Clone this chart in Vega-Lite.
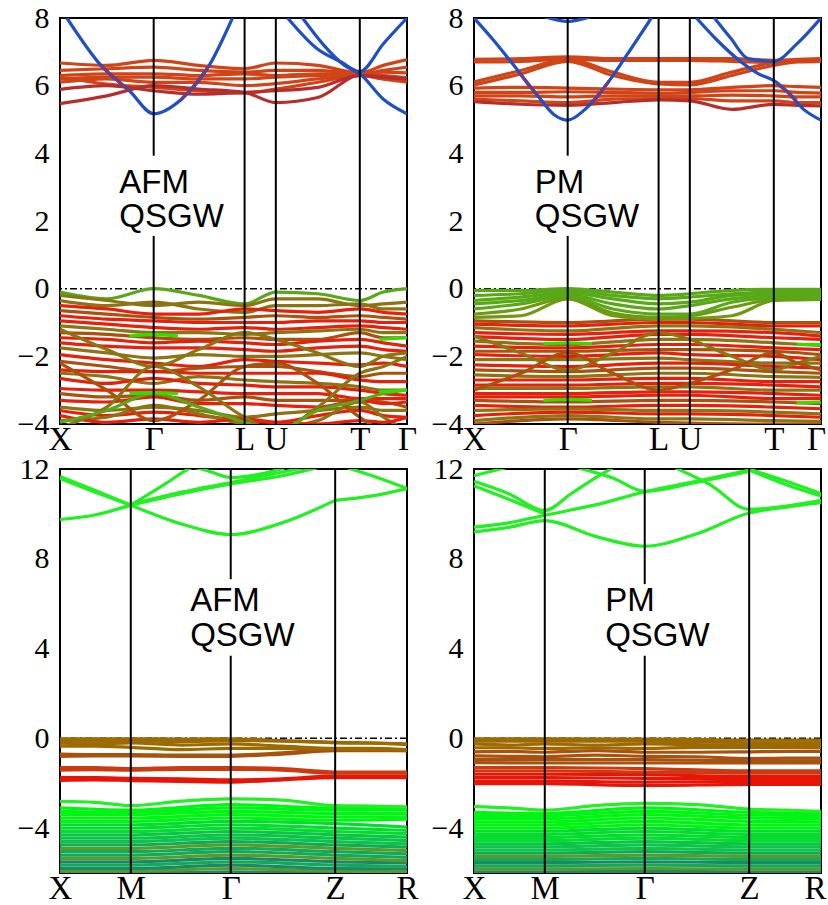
{
"$schema": "https://vega.github.io/schema/vega-lite/v6.json",
"background": "white",
"padding": {"left": 16, "top": 2, "right": 0, "bottom": 0},
"columns": 2,
"spacing": {"row": 45, "column": 67},
"bounds": "flush",
"resolve": {"scale": {"x": "independent", "y": "independent"}},
"datasets": {
"tl": [
{"b":"c1","c":"c","x":0,"y":6.67},{"b":"c1","c":"c","x":0.135,"y":6.6},{"b":"c1","c":"c","x":0.27,"y":6.75},{"b":"c1","c":"c","x":0.4,"y":6.6},{"b":"c1","c":"c","x":0.532,"y":6.5},{"b":"c1","c":"c","x":0.622,"y":6.67},{"b":"c1","c":"c","x":0.743,"y":6.6},{"b":"c1","c":"c","x":0.864,"y":6.38},{"b":"c1","c":"c","x":0.932,"y":6.6},{"b":"c1","c":"c","x":1,"y":6.77},
{"b":"c2","c":"c","x":0,"y":6.45},{"b":"c2","c":"c","x":0.135,"y":6.5},{"b":"c2","c":"c","x":0.27,"y":6.55},{"b":"c2","c":"c","x":0.4,"y":6.45},{"b":"c2","c":"c","x":0.532,"y":6.4},{"b":"c2","c":"c","x":0.622,"y":6.45},{"b":"c2","c":"c","x":0.743,"y":6.45},{"b":"c2","c":"c","x":0.864,"y":6.35},{"b":"c2","c":"c","x":0.932,"y":6.45},{"b":"c2","c":"c","x":1,"y":6.55},
{"b":"c3","c":"c","x":0,"y":6.3},{"b":"c3","c":"c","x":0.135,"y":6.35},{"b":"c3","c":"c","x":0.27,"y":6.35},{"b":"c3","c":"c","x":0.4,"y":6.3},{"b":"c3","c":"c","x":0.532,"y":6.35},{"b":"c3","c":"c","x":0.622,"y":6.3},{"b":"c3","c":"c","x":0.743,"y":6.35},{"b":"c3","c":"c","x":0.864,"y":6.35},{"b":"c3","c":"c","x":0.932,"y":6.4},{"b":"c3","c":"c","x":1,"y":6.38},
{"b":"c4","c":"c","x":0,"y":6.19},{"b":"c4","c":"c","x":0.135,"y":6.25},{"b":"c4","c":"c","x":0.27,"y":6.25},{"b":"c4","c":"c","x":0.4,"y":6.2},{"b":"c4","c":"c","x":0.532,"y":6.2},{"b":"c4","c":"c","x":0.622,"y":6.25},{"b":"c4","c":"c","x":0.743,"y":6.3},{"b":"c4","c":"c","x":0.864,"y":6.33},{"b":"c4","c":"c","x":0.932,"y":6.3},{"b":"c4","c":"c","x":1,"y":6.23},
{"b":"c5","c":"c","x":0,"y":6.1},{"b":"c5","c":"c","x":0.135,"y":6.2},{"b":"c5","c":"c","x":0.27,"y":6.1},{"b":"c5","c":"c","x":0.4,"y":6.1},{"b":"c5","c":"c","x":0.532,"y":6.0},{"b":"c5","c":"c","x":0.622,"y":6.06},{"b":"c5","c":"c","x":0.743,"y":6.2},{"b":"c5","c":"c","x":0.864,"y":6.32},{"b":"c5","c":"c","x":0.932,"y":6.2},{"b":"c5","c":"c","x":1,"y":6.1},
{"b":"c6","c":"c","x":0,"y":6.25},{"b":"c6","c":"c","x":0.135,"y":6.05},{"b":"c6","c":"c","x":0.27,"y":5.95},{"b":"c6","c":"c","x":0.4,"y":5.85},{"b":"c6","c":"c","x":0.532,"y":5.78},{"b":"c6","c":"c","x":0.622,"y":5.9},{"b":"c6","c":"c","x":0.743,"y":6.1},{"b":"c6","c":"c","x":0.864,"y":6.3},{"b":"c6","c":"c","x":0.932,"y":6.2},{"b":"c6","c":"c","x":1,"y":6.15},
{"b":"d1","c":"d","x":0,"y":5.89},{"b":"d1","c":"d","x":0.135,"y":6.0},{"b":"d1","c":"d","x":0.27,"y":5.85},{"b":"d1","c":"d","x":0.4,"y":5.75},{"b":"d1","c":"d","x":0.532,"y":5.8},{"b":"d1","c":"d","x":0.622,"y":5.85},{"b":"d1","c":"d","x":0.743,"y":5.95},{"b":"d1","c":"d","x":0.864,"y":6.3},{"b":"d1","c":"d","x":0.932,"y":6.25},{"b":"d1","c":"d","x":1,"y":6.2},
{"b":"d2","c":"d","x":0,"y":5.47},{"b":"d2","c":"d","x":0.135,"y":5.7},{"b":"d2","c":"d","x":0.27,"y":6.0},{"b":"d2","c":"d","x":0.4,"y":5.9},{"b":"d2","c":"d","x":0.532,"y":5.8},{"b":"d2","c":"d","x":0.622,"y":5.5},{"b":"d2","c":"d","x":0.743,"y":5.65},{"b":"d2","c":"d","x":0.864,"y":6.3},{"b":"d2","c":"d","x":0.932,"y":6.25},{"b":"d2","c":"d","x":1,"y":6.2},
{"b":"v1","c":"g","x":0,"y":-0.1},{"b":"v1","c":"g","x":0.135,"y":-0.3},{"b":"v1","c":"g","x":0.27,"y":0.0},{"b":"v1","c":"g","x":0.4,"y":-0.2},{"b":"v1","c":"g","x":0.532,"y":-0.45},{"b":"v1","c":"g","x":0.622,"y":-0.1},{"b":"v1","c":"g","x":0.743,"y":-0.15},{"b":"v1","c":"g","x":0.864,"y":-0.35},{"b":"v1","c":"g","x":0.932,"y":-0.1},{"b":"v1","c":"g","x":1,"y":0.0},
{"b":"v2","c":"o","x":0,"y":-0.2},{"b":"v2","c":"o","x":0.135,"y":-0.35},{"b":"v2","c":"o","x":0.27,"y":-0.5},{"b":"v2","c":"o","x":0.4,"y":-0.4},{"b":"v2","c":"o","x":0.532,"y":-0.5},{"b":"v2","c":"o","x":0.622,"y":-0.3},{"b":"v2","c":"o","x":0.743,"y":-0.3},{"b":"v2","c":"o","x":0.864,"y":-0.5},{"b":"v2","c":"o","x":0.932,"y":-0.45},{"b":"v2","c":"o","x":1,"y":-0.4},
{"b":"v3","c":"o","x":0,"y":-0.35},{"b":"v3","c":"o","x":0.135,"y":-0.5},{"b":"v3","c":"o","x":0.27,"y":-0.4},{"b":"v3","c":"o","x":0.4,"y":-0.6},{"b":"v3","c":"o","x":0.532,"y":-0.7},{"b":"v3","c":"o","x":0.622,"y":-0.5},{"b":"v3","c":"o","x":0.743,"y":-0.5},{"b":"v3","c":"o","x":0.864,"y":-0.45},{"b":"v3","c":"o","x":0.932,"y":-0.6},{"b":"v3","c":"o","x":1,"y":-0.6},
{"b":"v4","c":"r","x":0,"y":-0.5},{"b":"v4","c":"r","x":0.135,"y":-0.6},{"b":"v4","c":"r","x":0.27,"y":-0.75},{"b":"v4","c":"r","x":0.4,"y":-0.75},{"b":"v4","c":"r","x":0.532,"y":-0.6},{"b":"v4","c":"r","x":0.622,"y":-0.65},{"b":"v4","c":"r","x":0.743,"y":-0.7},{"b":"v4","c":"r","x":0.864,"y":-0.6},{"b":"v4","c":"r","x":0.932,"y":-0.7},{"b":"v4","c":"r","x":1,"y":-0.75},
{"b":"v5","c":"n","x":0,"y":-0.65},{"b":"v5","c":"n","x":0.135,"y":-0.75},{"b":"v5","c":"n","x":0.27,"y":-0.85},{"b":"v5","c":"n","x":0.4,"y":-0.9},{"b":"v5","c":"n","x":0.532,"y":-0.85},{"b":"v5","c":"n","x":0.622,"y":-0.8},{"b":"v5","c":"n","x":0.743,"y":-0.85},{"b":"v5","c":"n","x":0.864,"y":-0.8},{"b":"v5","c":"n","x":0.932,"y":-0.85},{"b":"v5","c":"n","x":1,"y":-0.9},
{"b":"v6","c":"r","x":0,"y":-0.8},{"b":"v6","c":"r","x":0.135,"y":-0.9},{"b":"v6","c":"r","x":0.27,"y":-0.95},{"b":"v6","c":"r","x":0.4,"y":-1.0},{"b":"v6","c":"r","x":0.532,"y":-1.0},{"b":"v6","c":"r","x":0.622,"y":-1.0},{"b":"v6","c":"r","x":0.743,"y":-0.95},{"b":"v6","c":"r","x":0.864,"y":-0.95},{"b":"v6","c":"r","x":0.932,"y":-1.0},{"b":"v6","c":"r","x":1,"y":-1.0},
{"b":"v7","c":"r","x":0,"y":-0.95},{"b":"v7","c":"r","x":0.135,"y":-1.05},{"b":"v7","c":"r","x":0.27,"y":-1.15},{"b":"v7","c":"r","x":0.4,"y":-1.2},{"b":"v7","c":"r","x":0.532,"y":-1.15},{"b":"v7","c":"r","x":0.622,"y":-1.2},{"b":"v7","c":"r","x":0.743,"y":-1.15},{"b":"v7","c":"r","x":0.864,"y":-1.1},{"b":"v7","c":"r","x":0.932,"y":-1.15},{"b":"v7","c":"r","x":1,"y":-1.2},
{"b":"v8","c":"o","x":0,"y":-1.1},{"b":"v8","c":"o","x":0.135,"y":-1.2},{"b":"v8","c":"o","x":0.27,"y":-1.3},{"b":"v8","c":"o","x":0.4,"y":-1.3},{"b":"v8","c":"o","x":0.532,"y":-1.35},{"b":"v8","c":"o","x":0.622,"y":-1.3},{"b":"v8","c":"o","x":0.743,"y":-1.25},{"b":"v8","c":"o","x":0.864,"y":-1.2},{"b":"v8","c":"o","x":0.932,"y":-1.3},{"b":"v8","c":"o","x":1,"y":-1.3},
{"b":"v9","c":"n","x":0,"y":-1.3},{"b":"v9","c":"n","x":0.135,"y":-1.35},{"b":"v9","c":"n","x":0.27,"y":-1.45},{"b":"v9","c":"n","x":0.4,"y":-1.5},{"b":"v9","c":"n","x":0.532,"y":-1.45},{"b":"v9","c":"n","x":0.622,"y":-1.5},{"b":"v9","c":"n","x":0.743,"y":-1.5},{"b":"v9","c":"n","x":0.864,"y":-1.3},{"b":"v9","c":"n","x":0.932,"y":-1.45},{"b":"v9","c":"n","x":1,"y":-1.45},
{"b":"v10","c":"r","x":0,"y":-1.45},{"b":"v10","c":"r","x":0.135,"y":-1.5},{"b":"v10","c":"r","x":0.27,"y":-1.6},{"b":"v10","c":"r","x":0.4,"y":-1.55},{"b":"v10","c":"r","x":0.532,"y":-1.6},{"b":"v10","c":"r","x":0.622,"y":-1.65},{"b":"v10","c":"r","x":0.743,"y":-1.55},{"b":"v10","c":"r","x":0.864,"y":-1.5},{"b":"v10","c":"r","x":0.932,"y":-1.6},{"b":"v10","c":"r","x":1,"y":-1.7},
{"b":"v11","c":"r","x":0,"y":-1.6},{"b":"v11","c":"r","x":0.135,"y":-1.7},{"b":"v11","c":"r","x":0.27,"y":-1.75},{"b":"v11","c":"r","x":0.4,"y":-1.75},{"b":"v11","c":"r","x":0.532,"y":-1.8},{"b":"v11","c":"r","x":0.622,"y":-1.85},{"b":"v11","c":"r","x":0.743,"y":-1.75},{"b":"v11","c":"r","x":0.864,"y":-1.7},{"b":"v11","c":"r","x":0.932,"y":-1.8},{"b":"v11","c":"r","x":1,"y":-1.85},
{"b":"v12","c":"o","x":0,"y":-1.75},{"b":"v12","c":"o","x":0.135,"y":-1.9},{"b":"v12","c":"o","x":0.27,"y":-2.05},{"b":"v12","c":"o","x":0.4,"y":-1.95},{"b":"v12","c":"o","x":0.532,"y":-2.0},{"b":"v12","c":"o","x":0.622,"y":-2.0},{"b":"v12","c":"o","x":0.743,"y":-1.95},{"b":"v12","c":"o","x":0.864,"y":-1.9},{"b":"v12","c":"o","x":0.932,"y":-2.0},{"b":"v12","c":"o","x":1,"y":-2.1},
{"b":"v13","c":"r","x":0,"y":-1.95},{"b":"v13","c":"r","x":0.135,"y":-2.1},{"b":"v13","c":"r","x":0.27,"y":-2.2},{"b":"v13","c":"r","x":0.4,"y":-2.3},{"b":"v13","c":"r","x":0.532,"y":-2.1},{"b":"v13","c":"r","x":0.622,"y":-2.15},{"b":"v13","c":"r","x":0.743,"y":-2.2},{"b":"v13","c":"r","x":0.864,"y":-2.25},{"b":"v13","c":"r","x":0.932,"y":-2.2},{"b":"v13","c":"r","x":1,"y":-2.3},
{"b":"v14","c":"n","x":0,"y":-2.15},{"b":"v14","c":"n","x":0.135,"y":-2.3},{"b":"v14","c":"n","x":0.27,"y":-2.45},{"b":"v14","c":"n","x":0.4,"y":-2.35},{"b":"v14","c":"n","x":0.532,"y":-2.3},{"b":"v14","c":"n","x":0.622,"y":-2.3},{"b":"v14","c":"n","x":0.743,"y":-2.45},{"b":"v14","c":"n","x":0.864,"y":-2.6},{"b":"v14","c":"n","x":0.932,"y":-2.5},{"b":"v14","c":"n","x":1,"y":-2.5},
{"b":"v15","c":"r","x":0,"y":-2.4},{"b":"v15","c":"r","x":0.135,"y":-2.45},{"b":"v15","c":"r","x":0.27,"y":-2.45},{"b":"v15","c":"r","x":0.4,"y":-2.5},{"b":"v15","c":"r","x":0.532,"y":-2.5},{"b":"v15","c":"r","x":0.622,"y":-2.5},{"b":"v15","c":"r","x":0.743,"y":-2.5},{"b":"v15","c":"r","x":0.864,"y":-2.7},{"b":"v15","c":"r","x":0.932,"y":-2.75},{"b":"v15","c":"r","x":1,"y":-2.75},
{"b":"v16","c":"o","x":0,"y":-2.5},{"b":"v16","c":"o","x":0.135,"y":-2.6},{"b":"v16","c":"o","x":0.27,"y":-2.8},{"b":"v16","c":"o","x":0.4,"y":-2.6},{"b":"v16","c":"o","x":0.532,"y":-2.7},{"b":"v16","c":"o","x":0.622,"y":-2.75},{"b":"v16","c":"o","x":0.743,"y":-2.8},{"b":"v16","c":"o","x":0.864,"y":-2.9},{"b":"v16","c":"o","x":0.932,"y":-3.0},{"b":"v16","c":"o","x":1,"y":-3.0},
{"b":"v17","c":"r","x":0,"y":-2.65},{"b":"v17","c":"r","x":0.135,"y":-2.8},{"b":"v17","c":"r","x":0.27,"y":-2.65},{"b":"v17","c":"r","x":0.4,"y":-2.8},{"b":"v17","c":"r","x":0.532,"y":-2.85},{"b":"v17","c":"r","x":0.622,"y":-2.9},{"b":"v17","c":"r","x":0.743,"y":-2.9},{"b":"v17","c":"r","x":0.864,"y":-3.0},{"b":"v17","c":"r","x":0.932,"y":-3.1},{"b":"v17","c":"r","x":1,"y":-3.15},
{"b":"v18","c":"r","x":0,"y":-2.95},{"b":"v18","c":"r","x":0.135,"y":-3.0},{"b":"v18","c":"r","x":0.27,"y":-3.0},{"b":"v18","c":"r","x":0.4,"y":-3.05},{"b":"v18","c":"r","x":0.532,"y":-3.1},{"b":"v18","c":"r","x":0.622,"y":-3.1},{"b":"v18","c":"r","x":0.743,"y":-3.1},{"b":"v18","c":"r","x":0.864,"y":-3.25},{"b":"v18","c":"r","x":0.932,"y":-3.25},{"b":"v18","c":"r","x":1,"y":-3.25},
{"b":"v19","c":"n","x":0,"y":-3.1},{"b":"v19","c":"n","x":0.135,"y":-3.2},{"b":"v19","c":"n","x":0.27,"y":-3.15},{"b":"v19","c":"n","x":0.4,"y":-3.3},{"b":"v19","c":"n","x":0.532,"y":-3.2},{"b":"v19","c":"n","x":0.622,"y":-3.3},{"b":"v19","c":"n","x":0.743,"y":-3.3},{"b":"v19","c":"n","x":0.864,"y":-3.3},{"b":"v19","c":"n","x":0.932,"y":-3.35},{"b":"v19","c":"n","x":1,"y":-3.5},
{"b":"v20","c":"r","x":0,"y":-3.3},{"b":"v20","c":"r","x":0.135,"y":-3.35},{"b":"v20","c":"r","x":0.27,"y":-3.2},{"b":"v20","c":"r","x":0.4,"y":-3.4},{"b":"v20","c":"r","x":0.532,"y":-3.4},{"b":"v20","c":"r","x":0.622,"y":-3.45},{"b":"v20","c":"r","x":0.743,"y":-3.5},{"b":"v20","c":"r","x":0.864,"y":-3.3},{"b":"v20","c":"r","x":0.932,"y":-3.4},{"b":"v20","c":"r","x":1,"y":-3.35},
{"b":"v21","c":"o","x":0,"y":-3.5},{"b":"v21","c":"o","x":0.135,"y":-3.6},{"b":"v21","c":"o","x":0.27,"y":-3.5},{"b":"v21","c":"o","x":0.4,"y":-3.6},{"b":"v21","c":"o","x":0.532,"y":-3.8},{"b":"v21","c":"o","x":0.622,"y":-3.7},{"b":"v21","c":"o","x":0.743,"y":-3.6},{"b":"v21","c":"o","x":0.864,"y":-3.5},{"b":"v21","c":"o","x":0.932,"y":-3.6},{"b":"v21","c":"o","x":1,"y":-3.6},
{"b":"v22","c":"r","x":0,"y":-3.6},{"b":"v22","c":"r","x":0.135,"y":-3.75},{"b":"v22","c":"r","x":0.27,"y":-3.65},{"b":"v22","c":"r","x":0.4,"y":-3.75},{"b":"v22","c":"r","x":0.532,"y":-3.9},{"b":"v22","c":"r","x":0.622,"y":-3.95},{"b":"v22","c":"r","x":0.743,"y":-3.75},{"b":"v22","c":"r","x":0.864,"y":-3.6},{"b":"v22","c":"r","x":0.932,"y":-3.75},{"b":"v22","c":"r","x":1,"y":-3.8},
{"b":"v23","c":"o","x":0,"y":-3.9},{"b":"v23","c":"o","x":0.135,"y":-3.8},{"b":"v23","c":"o","x":0.27,"y":-3.45},{"b":"v23","c":"o","x":0.4,"y":-3.7},{"b":"v23","c":"o","x":0.532,"y":-4.0},{"b":"v23","c":"o","x":0.622,"y":-4.1},{"b":"v23","c":"o","x":0.743,"y":-3.9},{"b":"v23","c":"o","x":0.864,"y":-3.35},{"b":"v23","c":"o","x":0.932,"y":-3.8},{"b":"v23","c":"o","x":1,"y":-4.2},
{"b":"v24","c":"r","x":0,"y":-3.75},{"b":"v24","c":"r","x":0.135,"y":-3.95},{"b":"v24","c":"r","x":0.27,"y":-3.85},{"b":"v24","c":"r","x":0.4,"y":-3.95},{"b":"v24","c":"r","x":0.532,"y":-3.85},{"b":"v24","c":"r","x":0.622,"y":-3.95},{"b":"v24","c":"r","x":0.743,"y":-4.0},{"b":"v24","c":"r","x":0.864,"y":-3.9},{"b":"v24","c":"r","x":0.932,"y":-3.95},{"b":"v24","c":"r","x":1,"y":-3.8},
{"b":"v25","c":"n","x":0,"y":-2.2},{"b":"v25","c":"n","x":0.135,"y":-3.0},{"b":"v25","c":"n","x":0.27,"y":-3.9},{"b":"v25","c":"n","x":0.4,"y":-3.3},{"b":"v25","c":"n","x":0.532,"y":-2.3},{"b":"v25","c":"n","x":0.622,"y":-2.2},{"b":"v25","c":"n","x":0.743,"y":-2.8},{"b":"v25","c":"n","x":0.864,"y":-3.8},{"b":"v25","c":"n","x":0.932,"y":-4.2},{"b":"v25","c":"n","x":1,"y":-4.3},
{"b":"v26","c":"o","x":0,"y":-4.1},{"b":"v26","c":"o","x":0.135,"y":-3.5},{"b":"v26","c":"o","x":0.27,"y":-2.3},{"b":"v26","c":"o","x":0.4,"y":-2.9},{"b":"v26","c":"o","x":0.532,"y":-3.8},{"b":"v26","c":"o","x":0.622,"y":-4.2},{"b":"v26","c":"o","x":0.743,"y":-3.5},{"b":"v26","c":"o","x":0.864,"y":-2.5},{"b":"v26","c":"o","x":0.932,"y":-2.3},{"b":"v26","c":"o","x":1,"y":-2.0},
{"b":"v27","c":"g","x":0,"y":-3.95},{"b":"v27","c":"g","x":0.135,"y":-3.6},{"b":"v27","c":"g","x":0.27,"y":-3.1},{"b":"v27","c":"g","x":0.4,"y":-3.5},{"b":"v27","c":"g","x":0.532,"y":-3.95},{"b":"v27","c":"g","x":0.622,"y":-4.2},{"b":"v27","c":"g","x":0.743,"y":-3.6},{"b":"v27","c":"g","x":0.864,"y":-3.3},{"b":"v27","c":"g","x":0.932,"y":-3.1},{"b":"v27","c":"g","x":1,"y":-3.0},
{"b":"v28","c":"o","x":0,"y":-1.2},{"b":"v28","c":"o","x":0.135,"y":-1.8},{"b":"v28","c":"o","x":0.27,"y":-2.3},{"b":"v28","c":"o","x":0.4,"y":-1.8},{"b":"v28","c":"o","x":0.532,"y":-1.3},{"b":"v28","c":"o","x":0.622,"y":-1.5},{"b":"v28","c":"o","x":0.743,"y":-1.9},{"b":"v28","c":"o","x":0.864,"y":-2.3},{"b":"v28","c":"o","x":0.932,"y":-2.0},{"b":"v28","c":"o","x":1,"y":-1.9},
{"b":"s1","c":"G","x":0.2,"y":-1.4},{"b":"s1","c":"G","x":0.27,"y":-1.35},{"b":"s1","c":"G","x":0.34,"y":-1.4},
{"b":"s2","c":"G","x":0.2,"y":-3.1},{"b":"s2","c":"G","x":0.27,"y":-3.07},{"b":"s2","c":"G","x":0.34,"y":-3.1},
{"b":"s3","c":"G","x":0.92,"y":-1.5},{"b":"s3","c":"G","x":1,"y":-1.45},
{"b":"s4","c":"G","x":0.92,"y":-3.05},{"b":"s4","c":"G","x":1,"y":-3.0},
{"b":"bb1","c":"b","x":0.02,"y":8.0},{"b":"bb1","c":"b","x":0.118,"y":6.6},{"b":"bb1","c":"b","x":0.2,"y":5.85},{"b":"bb1","c":"b","x":0.27,"y":5.17},{"b":"bb1","c":"b","x":0.35,"y":5.6},{"b":"bb1","c":"b","x":0.43,"y":6.6},{"b":"bb1","c":"b","x":0.497,"y":8.0},
{"b":"pp1","c":"p","x":0.118,"y":6.6},{"b":"pp1","c":"p","x":0.16,"y":6.2},{"b":"pp1","c":"p","x":0.2,"y":5.85},
{"b":"pp2","c":"p","x":0.35,"y":5.6},{"b":"pp2","c":"p","x":0.39,"y":6.05},{"b":"pp2","c":"p","x":0.43,"y":6.6},
{"b":"bb2","c":"b","x":0.656,"y":8.0},{"b":"bb2","c":"b","x":0.74,"y":7.1},{"b":"bb2","c":"b","x":0.81,"y":6.7},{"b":"bb2","c":"b","x":0.864,"y":6.42},{"b":"bb2","c":"b","x":0.932,"y":7.24},{"b":"bb2","c":"b","x":1,"y":8.0},
{"b":"bb3","c":"b","x":0.699,"y":8.0},{"b":"bb3","c":"b","x":0.76,"y":7.2},{"b":"bb3","c":"b","x":0.82,"y":6.6},{"b":"bb3","c":"b","x":0.864,"y":6.35},{"b":"bb3","c":"b","x":0.932,"y":5.6},{"b":"bb3","c":"b","x":1,"y":5.17}
],
"tr": [
{"b":"f1","c":"c","x":0,"y":6.78},{"b":"f1","c":"c","x":0.135,"y":6.8},{"b":"f1","c":"c","x":0.27,"y":6.85},{"b":"f1","c":"c","x":0.4,"y":6.8},{"b":"f1","c":"c","x":0.532,"y":6.8},{"b":"f1","c":"c","x":0.622,"y":6.8},{"b":"f1","c":"c","x":0.743,"y":6.8},{"b":"f1","c":"c","x":0.864,"y":6.75},{"b":"f1","c":"c","x":0.932,"y":6.78},{"b":"f1","c":"c","x":1,"y":6.8},
{"b":"f2","c":"c","x":0,"y":6.7},{"b":"f2","c":"c","x":0.135,"y":6.72},{"b":"f2","c":"c","x":0.27,"y":6.78},{"b":"f2","c":"c","x":0.4,"y":6.75},{"b":"f2","c":"c","x":0.532,"y":6.75},{"b":"f2","c":"c","x":0.622,"y":6.75},{"b":"f2","c":"c","x":0.743,"y":6.72},{"b":"f2","c":"c","x":0.864,"y":6.68},{"b":"f2","c":"c","x":0.932,"y":6.72},{"b":"f2","c":"c","x":1,"y":6.75},
{"b":"f3","c":"c","x":0,"y":6.11},{"b":"f3","c":"c","x":0.135,"y":6.45},{"b":"f3","c":"c","x":0.27,"y":6.78},{"b":"f3","c":"c","x":0.4,"y":6.4},{"b":"f3","c":"c","x":0.532,"y":6.1},{"b":"f3","c":"c","x":0.622,"y":6.1},{"b":"f3","c":"c","x":0.743,"y":6.4},{"b":"f3","c":"c","x":0.864,"y":6.68},{"b":"f3","c":"c","x":0.932,"y":6.72},{"b":"f3","c":"c","x":1,"y":6.75},
{"b":"f4","c":"c","x":0,"y":6.02},{"b":"f4","c":"c","x":0.135,"y":6.35},{"b":"f4","c":"c","x":0.27,"y":6.72},{"b":"f4","c":"c","x":0.4,"y":6.3},{"b":"f4","c":"c","x":0.532,"y":6.05},{"b":"f4","c":"c","x":0.622,"y":6.02},{"b":"f4","c":"c","x":0.743,"y":6.3},{"b":"f4","c":"c","x":0.864,"y":6.6},{"b":"f4","c":"c","x":0.932,"y":6.7},{"b":"f4","c":"c","x":1,"y":6.72},
{"b":"m1","c":"c","x":0,"y":5.93},{"b":"m1","c":"c","x":0.135,"y":5.95},{"b":"m1","c":"c","x":0.27,"y":5.93},{"b":"m1","c":"c","x":0.4,"y":5.9},{"b":"m1","c":"c","x":0.532,"y":5.88},{"b":"m1","c":"c","x":0.622,"y":5.88},{"b":"m1","c":"c","x":0.743,"y":5.95},{"b":"m1","c":"c","x":0.864,"y":6.0},{"b":"m1","c":"c","x":0.932,"y":5.97},{"b":"m1","c":"c","x":1,"y":5.95},
{"b":"m2","c":"c","x":0,"y":5.8},{"b":"m2","c":"c","x":0.135,"y":5.8},{"b":"m2","c":"c","x":0.27,"y":5.82},{"b":"m2","c":"c","x":0.4,"y":5.8},{"b":"m2","c":"c","x":0.532,"y":5.78},{"b":"m2","c":"c","x":0.622,"y":5.8},{"b":"m2","c":"c","x":0.743,"y":5.85},{"b":"m2","c":"c","x":0.864,"y":5.85},{"b":"m2","c":"c","x":0.932,"y":5.8},{"b":"m2","c":"c","x":1,"y":5.78},
{"b":"m3","c":"c","x":0,"y":5.7},{"b":"m3","c":"c","x":0.135,"y":5.7},{"b":"m3","c":"c","x":0.27,"y":5.67},{"b":"m3","c":"c","x":0.4,"y":5.7},{"b":"m3","c":"c","x":0.532,"y":5.7},{"b":"m3","c":"c","x":0.622,"y":5.7},{"b":"m3","c":"c","x":0.743,"y":5.72},{"b":"m3","c":"c","x":0.864,"y":5.7},{"b":"m3","c":"c","x":0.932,"y":5.67},{"b":"m3","c":"c","x":1,"y":5.67},
{"b":"m4","c":"c","x":0,"y":5.6},{"b":"m4","c":"c","x":0.135,"y":5.55},{"b":"m4","c":"c","x":0.27,"y":5.5},{"b":"m4","c":"c","x":0.4,"y":5.6},{"b":"m4","c":"c","x":0.532,"y":5.62},{"b":"m4","c":"c","x":0.622,"y":5.62},{"b":"m4","c":"c","x":0.743,"y":5.55},{"b":"m4","c":"c","x":0.864,"y":5.55},{"b":"m4","c":"c","x":0.932,"y":5.5},{"b":"m4","c":"c","x":1,"y":5.5},
{"b":"m5","c":"d","x":0,"y":5.53},{"b":"m5","c":"d","x":0.135,"y":5.45},{"b":"m5","c":"d","x":0.27,"y":5.42},{"b":"m5","c":"d","x":0.4,"y":5.5},{"b":"m5","c":"d","x":0.532,"y":5.58},{"b":"m5","c":"d","x":0.622,"y":5.55},{"b":"m5","c":"d","x":0.743,"y":5.3},{"b":"m5","c":"d","x":0.864,"y":5.45},{"b":"m5","c":"d","x":0.932,"y":5.42},{"b":"m5","c":"d","x":1,"y":5.4},
{"b":"d01","c":"n","x":0,"y":-0.95},{"b":"d01","c":"n","x":0.27,"y":-1.0},{"b":"d01","c":"n","x":0.532,"y":-0.9},{"b":"d01","c":"n","x":0.622,"y":-0.9},{"b":"d01","c":"n","x":0.864,"y":-1.0},{"b":"d01","c":"n","x":1,"y":-1.0},
{"b":"d02","c":"r","x":0,"y":-1.05},{"b":"d02","c":"r","x":0.27,"y":-1.1},{"b":"d02","c":"r","x":0.532,"y":-1.0},{"b":"d02","c":"r","x":0.622,"y":-1.0},{"b":"d02","c":"r","x":0.864,"y":-1.1},{"b":"d02","c":"r","x":1,"y":-1.1},
{"b":"d03","c":"o","x":0,"y":-1.15},{"b":"d03","c":"o","x":0.27,"y":-1.25},{"b":"d03","c":"o","x":0.532,"y":-1.1},{"b":"d03","c":"o","x":0.622,"y":-1.1},{"b":"d03","c":"o","x":0.864,"y":-1.2},{"b":"d03","c":"o","x":1,"y":-1.3},
{"b":"d04","c":"r","x":0,"y":-1.3},{"b":"d04","c":"r","x":0.27,"y":-1.35},{"b":"d04","c":"r","x":0.532,"y":-1.25},{"b":"d04","c":"r","x":0.622,"y":-1.25},{"b":"d04","c":"r","x":0.864,"y":-1.3},{"b":"d04","c":"r","x":1,"y":-1.4},
{"b":"d05","c":"r","x":0,"y":-1.42},{"b":"d05","c":"r","x":0.27,"y":-1.5},{"b":"d05","c":"r","x":0.532,"y":-1.35},{"b":"d05","c":"r","x":0.622,"y":-1.35},{"b":"d05","c":"r","x":0.864,"y":-1.45},{"b":"d05","c":"r","x":1,"y":-1.5},
{"b":"d06","c":"o","x":0,"y":-1.55},{"b":"d06","c":"o","x":0.27,"y":-1.65},{"b":"d06","c":"o","x":0.532,"y":-1.5},{"b":"d06","c":"o","x":0.622,"y":-1.5},{"b":"d06","c":"o","x":0.864,"y":-1.6},{"b":"d06","c":"o","x":1,"y":-1.68},
{"b":"d07","c":"r","x":0,"y":-1.7},{"b":"d07","c":"r","x":0.27,"y":-1.75},{"b":"d07","c":"r","x":0.532,"y":-1.65},{"b":"d07","c":"r","x":0.622,"y":-1.65},{"b":"d07","c":"r","x":0.864,"y":-1.75},{"b":"d07","c":"r","x":1,"y":-1.8},
{"b":"d08","c":"n","x":0,"y":-1.85},{"b":"d08","c":"n","x":0.27,"y":-1.85},{"b":"d08","c":"n","x":0.532,"y":-1.8},{"b":"d08","c":"n","x":0.622,"y":-1.8},{"b":"d08","c":"n","x":0.864,"y":-1.85},{"b":"d08","c":"n","x":1,"y":-1.95},
{"b":"d09","c":"r","x":0,"y":-1.95},{"b":"d09","c":"r","x":0.27,"y":-2.0},{"b":"d09","c":"r","x":0.532,"y":-1.9},{"b":"d09","c":"r","x":0.622,"y":-1.95},{"b":"d09","c":"r","x":0.864,"y":-2.0},{"b":"d09","c":"r","x":1,"y":-2.1},
{"b":"d10","c":"o","x":0,"y":-2.1},{"b":"d10","c":"o","x":0.27,"y":-2.1},{"b":"d10","c":"o","x":0.532,"y":-2.05},{"b":"d10","c":"o","x":0.622,"y":-2.1},{"b":"d10","c":"o","x":0.864,"y":-2.2},{"b":"d10","c":"o","x":1,"y":-2.2},
{"b":"d11","c":"r","x":0,"y":-2.25},{"b":"d11","c":"r","x":0.27,"y":-2.3},{"b":"d11","c":"r","x":0.532,"y":-2.2},{"b":"d11","c":"r","x":0.622,"y":-2.2},{"b":"d11","c":"r","x":0.864,"y":-2.3},{"b":"d11","c":"r","x":1,"y":-2.35},
{"b":"d12","c":"n","x":0,"y":-2.4},{"b":"d12","c":"n","x":0.27,"y":-2.45},{"b":"d12","c":"n","x":0.532,"y":-2.35},{"b":"d12","c":"n","x":0.622,"y":-2.35},{"b":"d12","c":"n","x":0.864,"y":-2.45},{"b":"d12","c":"n","x":1,"y":-2.5},
{"b":"d13","c":"o","x":0,"y":-2.55},{"b":"d13","c":"o","x":0.27,"y":-2.6},{"b":"d13","c":"o","x":0.532,"y":-2.5},{"b":"d13","c":"o","x":0.622,"y":-2.5},{"b":"d13","c":"o","x":0.864,"y":-2.6},{"b":"d13","c":"o","x":1,"y":-2.62},
{"b":"d14","c":"r","x":0,"y":-2.7},{"b":"d14","c":"r","x":0.27,"y":-2.7},{"b":"d14","c":"r","x":0.532,"y":-2.65},{"b":"d14","c":"r","x":0.622,"y":-2.65},{"b":"d14","c":"r","x":0.864,"y":-2.75},{"b":"d14","c":"r","x":1,"y":-2.75},
{"b":"d15","c":"r","x":0,"y":-2.85},{"b":"d15","c":"r","x":0.27,"y":-2.85},{"b":"d15","c":"r","x":0.532,"y":-2.8},{"b":"d15","c":"r","x":0.622,"y":-2.8},{"b":"d15","c":"r","x":0.864,"y":-2.85},{"b":"d15","c":"r","x":1,"y":-2.9},
{"b":"d16","c":"o","x":0,"y":-2.95},{"b":"d16","c":"o","x":0.27,"y":-2.95},{"b":"d16","c":"o","x":0.532,"y":-2.9},{"b":"d16","c":"o","x":0.622,"y":-2.9},{"b":"d16","c":"o","x":0.864,"y":-3.0},{"b":"d16","c":"o","x":1,"y":-3.0},
{"b":"d17","c":"r","x":0,"y":-3.1},{"b":"d17","c":"r","x":0.27,"y":-3.1},{"b":"d17","c":"r","x":0.532,"y":-3.05},{"b":"d17","c":"r","x":0.622,"y":-3.05},{"b":"d17","c":"r","x":0.864,"y":-3.1},{"b":"d17","c":"r","x":1,"y":-3.15},
{"b":"d18","c":"r","x":0,"y":-3.2},{"b":"d18","c":"r","x":0.27,"y":-3.2},{"b":"d18","c":"r","x":0.532,"y":-3.15},{"b":"d18","c":"r","x":0.622,"y":-3.15},{"b":"d18","c":"r","x":0.864,"y":-3.25},{"b":"d18","c":"r","x":1,"y":-3.25},
{"b":"d19","c":"n","x":0,"y":-3.3},{"b":"d19","c":"n","x":0.27,"y":-3.35},{"b":"d19","c":"n","x":0.532,"y":-3.3},{"b":"d19","c":"n","x":0.622,"y":-3.3},{"b":"d19","c":"n","x":0.864,"y":-3.35},{"b":"d19","c":"n","x":1,"y":-3.4},
{"b":"d20","c":"r","x":0,"y":-3.45},{"b":"d20","c":"r","x":0.27,"y":-3.5},{"b":"d20","c":"r","x":0.532,"y":-3.45},{"b":"d20","c":"r","x":0.622,"y":-3.45},{"b":"d20","c":"r","x":0.864,"y":-3.5},{"b":"d20","c":"r","x":1,"y":-3.55},
{"b":"d21","c":"o","x":0,"y":-3.6},{"b":"d21","c":"o","x":0.27,"y":-3.55},{"b":"d21","c":"o","x":0.532,"y":-3.6},{"b":"d21","c":"o","x":0.622,"y":-3.6},{"b":"d21","c":"o","x":0.864,"y":-3.65},{"b":"d21","c":"o","x":1,"y":-3.7},
{"b":"d22","c":"r","x":0,"y":-3.75},{"b":"d22","c":"r","x":0.27,"y":-3.65},{"b":"d22","c":"r","x":0.532,"y":-3.7},{"b":"d22","c":"r","x":0.622,"y":-3.7},{"b":"d22","c":"r","x":0.864,"y":-3.75},{"b":"d22","c":"r","x":1,"y":-3.8},
{"b":"d23","c":"o","x":0,"y":-3.9},{"b":"d23","c":"o","x":0.27,"y":-3.75},{"b":"d23","c":"o","x":0.532,"y":-3.85},{"b":"d23","c":"o","x":0.622,"y":-3.85},{"b":"d23","c":"o","x":0.864,"y":-3.9},{"b":"d23","c":"o","x":1,"y":-3.92},
{"b":"d24","c":"n","x":0,"y":-4.0},{"b":"d24","c":"n","x":0.27,"y":-3.85},{"b":"d24","c":"n","x":0.532,"y":-3.95},{"b":"d24","c":"n","x":0.622,"y":-3.97},{"b":"d24","c":"n","x":0.864,"y":-4.0},{"b":"d24","c":"n","x":1,"y":-4.0},
{"b":"x1","c":"o","x":0,"y":-1.4},{"b":"x1","c":"o","x":0.135,"y":-1.9},{"b":"x1","c":"o","x":0.27,"y":-2.4},{"b":"x1","c":"o","x":0.4,"y":-1.9},{"b":"x1","c":"o","x":0.532,"y":-1.3},{"b":"x1","c":"o","x":0.622,"y":-1.5},{"b":"x1","c":"o","x":0.743,"y":-2.0},{"b":"x1","c":"o","x":0.864,"y":-2.4},{"b":"x1","c":"o","x":0.932,"y":-2.2},{"b":"x1","c":"o","x":1,"y":-2.0},
{"b":"x2","c":"n","x":0,"y":-3.0},{"b":"x2","c":"n","x":0.135,"y":-2.5},{"b":"x2","c":"n","x":0.27,"y":-1.9},{"b":"x2","c":"n","x":0.4,"y":-2.5},{"b":"x2","c":"n","x":0.532,"y":-3.0},{"b":"x2","c":"n","x":0.622,"y":-2.8},{"b":"x2","c":"n","x":0.743,"y":-2.4},{"b":"x2","c":"n","x":0.864,"y":-1.9},{"b":"x2","c":"n","x":0.932,"y":-2.2},{"b":"x2","c":"n","x":1,"y":-2.4},
{"b":"g7","c":"h","x":0,"y":-0.85},{"b":"g7","c":"h","x":0.135,"y":-0.8},{"b":"g7","c":"h","x":0.27,"y":-0.3},{"b":"g7","c":"h","x":0.4,"y":-0.8},{"b":"g7","c":"h","x":0.532,"y":-0.9},{"b":"g7","c":"h","x":0.622,"y":-0.88},{"b":"g7","c":"h","x":0.743,"y":-0.8},{"b":"g7","c":"h","x":0.864,"y":-0.35},{"b":"g7","c":"h","x":0.932,"y":-0.33},{"b":"g7","c":"h","x":1,"y":-0.32},
{"b":"g6","c":"h","x":0,"y":-0.75},{"b":"g6","c":"h","x":0.135,"y":-0.6},{"b":"g6","c":"h","x":0.27,"y":-0.27},{"b":"g6","c":"h","x":0.4,"y":-0.72},{"b":"g6","c":"h","x":0.532,"y":-0.85},{"b":"g6","c":"h","x":0.622,"y":-0.8},{"b":"g6","c":"h","x":0.743,"y":-0.55},{"b":"g6","c":"h","x":0.864,"y":-0.32},{"b":"g6","c":"h","x":0.932,"y":-0.3},{"b":"g6","c":"h","x":1,"y":-0.3},
{"b":"g5","c":"g","x":0,"y":-0.6},{"b":"g5","c":"g","x":0.135,"y":-0.45},{"b":"g5","c":"g","x":0.27,"y":-0.22},{"b":"g5","c":"g","x":0.4,"y":-0.6},{"b":"g5","c":"g","x":0.532,"y":-0.75},{"b":"g5","c":"g","x":0.622,"y":-0.75},{"b":"g5","c":"g","x":0.743,"y":-0.4},{"b":"g5","c":"g","x":0.864,"y":-0.28},{"b":"g5","c":"g","x":0.932,"y":-0.28},{"b":"g5","c":"g","x":1,"y":-0.27},
{"b":"g4","c":"g","x":0,"y":-0.45},{"b":"g4","c":"g","x":0.135,"y":-0.35},{"b":"g4","c":"g","x":0.27,"y":-0.18},{"b":"g4","c":"g","x":0.4,"y":-0.45},{"b":"g4","c":"g","x":0.532,"y":-0.6},{"b":"g4","c":"g","x":0.622,"y":-0.5},{"b":"g4","c":"g","x":0.743,"y":-0.3},{"b":"g4","c":"g","x":0.864,"y":-0.22},{"b":"g4","c":"g","x":0.932,"y":-0.22},{"b":"g4","c":"g","x":1,"y":-0.22},
{"b":"g3","c":"g","x":0,"y":-0.35},{"b":"g3","c":"g","x":0.135,"y":-0.25},{"b":"g3","c":"g","x":0.27,"y":-0.12},{"b":"g3","c":"g","x":0.4,"y":-0.3},{"b":"g3","c":"g","x":0.532,"y":-0.45},{"b":"g3","c":"g","x":0.622,"y":-0.4},{"b":"g3","c":"g","x":0.743,"y":-0.2},{"b":"g3","c":"g","x":0.864,"y":-0.15},{"b":"g3","c":"g","x":0.932,"y":-0.15},{"b":"g3","c":"g","x":1,"y":-0.15},
{"b":"g2","c":"g","x":0,"y":-0.2},{"b":"g2","c":"g","x":0.135,"y":-0.15},{"b":"g2","c":"g","x":0.27,"y":-0.05},{"b":"g2","c":"g","x":0.4,"y":-0.2},{"b":"g2","c":"g","x":0.532,"y":-0.3},{"b":"g2","c":"g","x":0.622,"y":-0.25},{"b":"g2","c":"g","x":0.743,"y":-0.15},{"b":"g2","c":"g","x":0.864,"y":-0.1},{"b":"g2","c":"g","x":0.932,"y":-0.08},{"b":"g2","c":"g","x":1,"y":-0.08},
{"b":"g1","c":"g","x":0,"y":-0.05},{"b":"g1","c":"g","x":0.135,"y":-0.05},{"b":"g1","c":"g","x":0.27,"y":0.0},{"b":"g1","c":"g","x":0.4,"y":-0.1},{"b":"g1","c":"g","x":0.532,"y":-0.2},{"b":"g1","c":"g","x":0.622,"y":-0.15},{"b":"g1","c":"g","x":0.743,"y":-0.05},{"b":"g1","c":"g","x":0.864,"y":-0.02},{"b":"g1","c":"g","x":0.932,"y":-0.02},{"b":"g1","c":"g","x":1,"y":-0.02},
{"b":"G1","c":"G","x":0.2,"y":-1.62},{"b":"G1","c":"G","x":0.27,"y":-1.6},{"b":"G1","c":"G","x":0.34,"y":-1.62},
{"b":"G2","c":"G","x":0.2,"y":-3.3},{"b":"G2","c":"G","x":0.27,"y":-3.27},{"b":"G2","c":"G","x":0.34,"y":-3.3},
{"b":"G3","c":"G","x":0.93,"y":-1.65},{"b":"G3","c":"G","x":1,"y":-1.65},
{"b":"G4","c":"G","x":0.93,"y":-3.38},{"b":"G4","c":"G","x":1,"y":-3.35},
{"b":"b1","c":"b","x":0,"y":8.0},{"b":"b1","c":"b","x":0.06,"y":7.3},{"b":"b1","c":"b","x":0.13,"y":6.4},{"b":"b1","c":"b","x":0.18,"y":5.75},{"b":"b1","c":"b","x":0.23,"y":5.15},{"b":"b1","c":"b","x":0.27,"y":4.98},{"b":"b1","c":"b","x":0.32,"y":5.3},{"b":"b1","c":"b","x":0.39,"y":6.15},{"b":"b1","c":"b","x":0.44,"y":6.9},{"b":"b1","c":"b","x":0.511,"y":8.0},
{"b":"p1","c":"p","x":0.13,"y":6.4},{"b":"p1","c":"p","x":0.155,"y":6.05},{"b":"p1","c":"p","x":0.18,"y":5.75},
{"b":"p2","c":"p","x":0.34,"y":5.5},{"b":"p2","c":"p","x":0.365,"y":5.8},{"b":"p2","c":"p","x":0.39,"y":6.15},
{"b":"b4","c":"b","x":0.2,"y":8.05},{"b":"b4","c":"b","x":0.27,"y":7.9},{"b":"b4","c":"b","x":0.34,"y":8.05},
{"b":"b2","c":"b","x":0.641,"y":8.0},{"b":"b2","c":"b","x":0.7,"y":7.35},{"b":"b2","c":"b","x":0.77,"y":6.7},{"b":"b2","c":"b","x":0.82,"y":6.35},{"b":"b2","c":"b","x":0.864,"y":6.15},{"b":"b2","c":"b","x":0.9,"y":5.85},{"b":"b2","c":"b","x":0.95,"y":5.3},{"b":"b2","c":"b","x":1,"y":4.98},
{"b":"p3","c":"p","x":0.88,"y":6.0},{"b":"p3","c":"p","x":0.9,"y":5.85},{"b":"p3","c":"p","x":0.93,"y":5.55},
{"b":"b3","c":"b","x":0.693,"y":8.0},{"b":"b3","c":"b","x":0.74,"y":7.4},{"b":"b3","c":"b","x":0.79,"y":6.8},{"b":"b3","c":"b","x":0.864,"y":6.72},{"b":"b3","c":"b","x":0.932,"y":7.25},{"b":"b3","c":"b","x":1,"y":8.0}
],
"bl": [
{"b":"t1","c":"L","x":0,"y":11.67},{"b":"t1","c":"L","x":0.1,"y":11.05},{"b":"t1","c":"L","x":0.204,"y":10.39},
{"b":"t2","c":"L","x":0,"y":11.57},{"b":"t2","c":"L","x":0.1,"y":10.98},{"b":"t2","c":"L","x":0.204,"y":10.39},
{"b":"t3","c":"L","x":0,"y":9.75},{"b":"t3","c":"L","x":0.1,"y":9.95},{"b":"t3","c":"L","x":0.204,"y":10.39},
{"b":"t4","c":"L","x":0.204,"y":10.39},{"b":"t4","c":"L","x":0.3,"y":11.3},{"b":"t4","c":"L","x":0.37,"y":12.0},{"b":"t4","c":"L","x":0.4,"y":12.2},
{"b":"t5","c":"L","x":0.204,"y":10.39},{"b":"t5","c":"L","x":0.35,"y":10.9},{"b":"t5","c":"L","x":0.492,"y":11.33},{"b":"t5","c":"L","x":0.64,"y":11.7},{"b":"t5","c":"L","x":0.74,"y":12.05},
{"b":"t6","c":"L","x":0.204,"y":10.42},{"b":"t6","c":"L","x":0.35,"y":10.97},{"b":"t6","c":"L","x":0.492,"y":11.4},{"b":"t6","c":"L","x":0.62,"y":11.8},{"b":"t6","c":"L","x":0.7,"y":12.05},
{"b":"t7","c":"L","x":0.204,"y":10.39},{"b":"t7","c":"L","x":0.35,"y":9.55},{"b":"t7","c":"L","x":0.492,"y":9.08},{"b":"t7","c":"L","x":0.64,"y":9.6},{"b":"t7","c":"L","x":0.793,"y":10.6},
{"b":"t8","c":"L","x":0.38,"y":12.1},{"b":"t8","c":"L","x":0.42,"y":11.95},{"b":"t8","c":"L","x":0.492,"y":11.62},{"b":"t8","c":"L","x":0.57,"y":11.75},{"b":"t8","c":"L","x":0.647,"y":12.05},
{"b":"t9","c":"L","x":0.793,"y":10.6},{"b":"t9","c":"L","x":0.9,"y":10.8},{"b":"t9","c":"L","x":1,"y":11.13},
{"b":"t10","c":"L","x":0.83,"y":12.05},{"b":"t10","c":"L","x":0.9,"y":11.7},{"b":"t10","c":"L","x":1,"y":11.13},
{"b":"e22","c":"k6","x":0,"y":-6.0},{"b":"e22","c":"k6","x":0.204,"y":-6.0},{"b":"e22","c":"k6","x":0.492,"y":-5.95},{"b":"e22","c":"k6","x":0.793,"y":-6.0},{"b":"e22","c":"k6","x":1,"y":-6.0},
{"b":"e21","c":"k5","x":0,"y":-5.92},{"b":"e21","c":"k5","x":0.204,"y":-5.92},{"b":"e21","c":"k5","x":0.492,"y":-5.8},{"b":"e21","c":"k5","x":0.793,"y":-5.92},{"b":"e21","c":"k5","x":1,"y":-5.95},
{"b":"e20","c":"k6","x":0,"y":-5.8},{"b":"e20","c":"k6","x":0.204,"y":-5.8},{"b":"e20","c":"k6","x":0.492,"y":-5.65},{"b":"e20","c":"k6","x":0.793,"y":-5.8},{"b":"e20","c":"k6","x":1,"y":-5.82},
{"b":"e19","c":"k4","x":0,"y":-5.65},{"b":"e19","c":"k4","x":0.204,"y":-5.65},{"b":"e19","c":"k4","x":0.492,"y":-5.5},{"b":"e19","c":"k4","x":0.793,"y":-5.65},{"b":"e19","c":"k4","x":1,"y":-5.7},
{"b":"e18","c":"k6","x":0,"y":-5.5},{"b":"e18","c":"k6","x":0.204,"y":-5.5},{"b":"e18","c":"k6","x":0.492,"y":-5.35},{"b":"e18","c":"k6","x":0.793,"y":-5.5},{"b":"e18","c":"k6","x":1,"y":-5.55},
{"b":"e17","c":"k5","x":0,"y":-5.35},{"b":"e17","c":"k5","x":0.204,"y":-5.35},{"b":"e17","c":"k5","x":0.492,"y":-5.2},{"b":"e17","c":"k5","x":0.793,"y":-5.35},{"b":"e17","c":"k5","x":1,"y":-5.45},
{"b":"e16","c":"k4","x":0,"y":-5.2},{"b":"e16","c":"k4","x":0.204,"y":-5.2},{"b":"e16","c":"k4","x":0.492,"y":-5.05},{"b":"e16","c":"k4","x":0.793,"y":-5.2},{"b":"e16","c":"k4","x":1,"y":-5.3},
{"b":"e15","c":"k4","x":0,"y":-5.05},{"b":"e15","c":"k4","x":0.204,"y":-5.05},{"b":"e15","c":"k4","x":0.492,"y":-4.9},{"b":"e15","c":"k4","x":0.793,"y":-5.05},{"b":"e15","c":"k4","x":1,"y":-5.15},
{"b":"e14","c":"k5","x":0,"y":-4.9},{"b":"e14","c":"k5","x":0.204,"y":-4.9},{"b":"e14","c":"k5","x":0.492,"y":-4.75},{"b":"e14","c":"k5","x":0.793,"y":-4.9},{"b":"e14","c":"k5","x":1,"y":-5.0},
{"b":"e13","c":"k4","x":0,"y":-4.75},{"b":"e13","c":"k4","x":0.204,"y":-4.75},{"b":"e13","c":"k4","x":0.492,"y":-4.6},{"b":"e13","c":"k4","x":0.793,"y":-4.75},{"b":"e13","c":"k4","x":1,"y":-4.85},
{"b":"e12","c":"k3","x":0,"y":-4.6},{"b":"e12","c":"k3","x":0.204,"y":-4.6},{"b":"e12","c":"k3","x":0.492,"y":-4.45},{"b":"e12","c":"k3","x":0.793,"y":-4.6},{"b":"e12","c":"k3","x":1,"y":-4.7},
{"b":"e11","c":"k3","x":0,"y":-4.45},{"b":"e11","c":"k3","x":0.204,"y":-4.45},{"b":"e11","c":"k3","x":0.492,"y":-4.3},{"b":"e11","c":"k3","x":0.793,"y":-4.45},{"b":"e11","c":"k3","x":1,"y":-4.55},
{"b":"e10","c":"k3","x":0,"y":-4.3},{"b":"e10","c":"k3","x":0.204,"y":-4.3},{"b":"e10","c":"k3","x":0.492,"y":-4.15},{"b":"e10","c":"k3","x":0.793,"y":-4.3},{"b":"e10","c":"k3","x":1,"y":-4.4},
{"b":"e9","c":"k2","x":0,"y":-4.15},{"b":"e9","c":"k2","x":0.204,"y":-4.15},{"b":"e9","c":"k2","x":0.492,"y":-4.0},{"b":"e9","c":"k2","x":0.793,"y":-4.15},{"b":"e9","c":"k2","x":1,"y":-4.25},
{"b":"e8","c":"k2","x":0,"y":-4.0},{"b":"e8","c":"k2","x":0.204,"y":-4.0},{"b":"e8","c":"k2","x":0.492,"y":-3.85},{"b":"e8","c":"k2","x":0.793,"y":-4.0},{"b":"e8","c":"k2","x":1,"y":-4.1},
{"b":"e7","c":"k2","x":0,"y":-3.85},{"b":"e7","c":"k2","x":0.204,"y":-3.85},{"b":"e7","c":"k2","x":0.492,"y":-3.7},{"b":"e7","c":"k2","x":0.793,"y":-3.8},{"b":"e7","c":"k2","x":1,"y":-3.95},
{"b":"e6","c":"k1","x":0,"y":-3.7},{"b":"e6","c":"k1","x":0.204,"y":-3.7},{"b":"e6","c":"k1","x":0.492,"y":-3.55},{"b":"e6","c":"k1","x":0.793,"y":-3.65},{"b":"e6","c":"k1","x":1,"y":-3.6},
{"b":"e5","c":"k1","x":0,"y":-3.55},{"b":"e5","c":"k1","x":0.204,"y":-3.55},{"b":"e5","c":"k1","x":0.492,"y":-3.4},{"b":"e5","c":"k1","x":0.793,"y":-3.5},{"b":"e5","c":"k1","x":1,"y":-3.5},
{"b":"e4","c":"k1","x":0,"y":-3.4},{"b":"e4","c":"k1","x":0.204,"y":-3.4},{"b":"e4","c":"k1","x":0.492,"y":-3.25},{"b":"e4","c":"k1","x":0.793,"y":-3.35},{"b":"e4","c":"k1","x":1,"y":-3.35},
{"b":"e3","c":"k1","x":0,"y":-3.25},{"b":"e3","c":"k1","x":0.204,"y":-3.3},{"b":"e3","c":"k1","x":0.492,"y":-3.1},{"b":"e3","c":"k1","x":0.793,"y":-3.2},{"b":"e3","c":"k1","x":1,"y":-3.2},
{"b":"e2","c":"k1","x":0,"y":-3.1},{"b":"e2","c":"k1","x":0.204,"y":-3.2},{"b":"e2","c":"k1","x":0.492,"y":-2.95},{"b":"e2","c":"k1","x":0.793,"y":-3.1},{"b":"e2","c":"k1","x":1,"y":-3.1},
{"b":"e1","c":"L","x":0,"y":-2.81},{"b":"e1","c":"L","x":0.1,"y":-2.85},{"b":"e1","c":"L","x":0.204,"y":-3.0},{"b":"e1","c":"L","x":0.35,"y":-2.8},{"b":"e1","c":"L","x":0.492,"y":-2.7},{"b":"e1","c":"L","x":0.64,"y":-2.75},{"b":"e1","c":"L","x":0.793,"y":-3.0},{"b":"e1","c":"L","x":0.9,"y":-3.02},{"b":"e1","c":"L","x":1,"y":-3.05},
{"b":"r4","c":"R","x":0,"y":-1.87},{"b":"r4","c":"R","x":0.1,"y":-1.85},{"b":"r4","c":"R","x":0.204,"y":-1.88},{"b":"r4","c":"R","x":0.35,"y":-1.92},{"b":"r4","c":"R","x":0.492,"y":-1.95},{"b":"r4","c":"R","x":0.64,"y":-1.85},{"b":"r4","c":"R","x":0.793,"y":-1.75},{"b":"r4","c":"R","x":0.9,"y":-1.75},{"b":"r4","c":"R","x":1,"y":-1.75},
{"b":"r3","c":"R","x":0,"y":-1.75},{"b":"r3","c":"R","x":0.1,"y":-1.75},{"b":"r3","c":"R","x":0.204,"y":-1.78},{"b":"r3","c":"R","x":0.35,"y":-1.8},{"b":"r3","c":"R","x":0.492,"y":-1.85},{"b":"r3","c":"R","x":0.64,"y":-1.8},{"b":"r3","c":"R","x":0.793,"y":-1.68},{"b":"r3","c":"R","x":0.9,"y":-1.68},{"b":"r3","c":"R","x":1,"y":-1.68},
{"b":"r2","c":"q","x":0,"y":-1.42},{"b":"r2","c":"q","x":0.1,"y":-1.4},{"b":"r2","c":"q","x":0.204,"y":-1.42},{"b":"r2","c":"q","x":0.35,"y":-1.38},{"b":"r2","c":"q","x":0.492,"y":-1.38},{"b":"r2","c":"q","x":0.64,"y":-1.42},{"b":"r2","c":"q","x":0.793,"y":-1.55},{"b":"r2","c":"q","x":0.9,"y":-1.55},{"b":"r2","c":"q","x":1,"y":-1.55},
{"b":"r1","c":"q","x":0,"y":-1.3},{"b":"r1","c":"q","x":0.1,"y":-1.3},{"b":"r1","c":"q","x":0.204,"y":-1.35},{"b":"r1","c":"q","x":0.35,"y":-1.3},{"b":"r1","c":"q","x":0.492,"y":-1.3},{"b":"r1","c":"q","x":0.64,"y":-1.35},{"b":"r1","c":"q","x":0.793,"y":-1.5},{"b":"r1","c":"q","x":0.9,"y":-1.5},{"b":"r1","c":"q","x":1,"y":-1.5},
{"b":"n6","c":"n","x":0,"y":-0.8},{"b":"n6","c":"n","x":0.1,"y":-0.78},{"b":"n6","c":"n","x":0.204,"y":-0.78},{"b":"n6","c":"n","x":0.35,"y":-0.8},{"b":"n6","c":"n","x":0.492,"y":-0.8},{"b":"n6","c":"n","x":0.64,"y":-0.7},{"b":"n6","c":"n","x":0.793,"y":-0.55},{"b":"n6","c":"n","x":0.9,"y":-0.55},{"b":"n6","c":"n","x":1,"y":-0.55},
{"b":"n5","c":"n","x":0,"y":-0.7},{"b":"n5","c":"n","x":0.1,"y":-0.72},{"b":"n5","c":"n","x":0.204,"y":-0.72},{"b":"n5","c":"n","x":0.35,"y":-0.75},{"b":"n5","c":"n","x":0.492,"y":-0.75},{"b":"n5","c":"n","x":0.64,"y":-0.65},{"b":"n5","c":"n","x":0.793,"y":-0.5},{"b":"n5","c":"n","x":0.9,"y":-0.5},{"b":"n5","c":"n","x":1,"y":-0.55},
{"b":"n4","c":"N","x":0,"y":-0.35},{"b":"n4","c":"N","x":0.1,"y":-0.35},{"b":"n4","c":"N","x":0.204,"y":-0.4},{"b":"n4","c":"N","x":0.35,"y":-0.5},{"b":"n4","c":"N","x":0.492,"y":-0.45},{"b":"n4","c":"N","x":0.64,"y":-0.45},{"b":"n4","c":"N","x":0.793,"y":-0.48},{"b":"n4","c":"N","x":0.9,"y":-0.5},{"b":"n4","c":"N","x":1,"y":-0.52},
{"b":"n3","c":"N","x":0,"y":-0.22},{"b":"n3","c":"N","x":0.1,"y":-0.25},{"b":"n3","c":"N","x":0.204,"y":-0.2},{"b":"n3","c":"N","x":0.35,"y":-0.3},{"b":"n3","c":"N","x":0.492,"y":-0.25},{"b":"n3","c":"N","x":0.64,"y":-0.35},{"b":"n3","c":"N","x":0.793,"y":-0.45},{"b":"n3","c":"N","x":0.9,"y":-0.45},{"b":"n3","c":"N","x":1,"y":-0.5},
{"b":"n2","c":"N","x":0,"y":-0.12},{"b":"n2","c":"N","x":0.1,"y":-0.12},{"b":"n2","c":"N","x":0.204,"y":-0.1},{"b":"n2","c":"N","x":0.35,"y":-0.15},{"b":"n2","c":"N","x":0.492,"y":-0.1},{"b":"n2","c":"N","x":0.64,"y":-0.12},{"b":"n2","c":"N","x":0.793,"y":-0.2},{"b":"n2","c":"N","x":0.9,"y":-0.22},{"b":"n2","c":"N","x":1,"y":-0.28},
{"b":"n1","c":"N","x":0,"y":-0.02},{"b":"n1","c":"N","x":0.1,"y":-0.02},{"b":"n1","c":"N","x":0.204,"y":-0.02},{"b":"n1","c":"N","x":0.35,"y":-0.03},{"b":"n1","c":"N","x":0.492,"y":-0.02},{"b":"n1","c":"N","x":0.64,"y":-0.1},{"b":"n1","c":"N","x":0.793,"y":-0.18},{"b":"n1","c":"N","x":0.9,"y":-0.2},{"b":"n1","c":"N","x":1,"y":-0.25}
],
"br": [
{"b":"u1","c":"L","x":0,"y":11.7},{"b":"u1","c":"L","x":0.05,"y":11.9},{"b":"u1","c":"L","x":0.09,"y":12.05},
{"b":"u2","c":"L","x":0,"y":11.45},{"b":"u2","c":"L","x":0.1,"y":10.9},{"b":"u2","c":"L","x":0.204,"y":10.15},{"b":"u2","c":"L","x":0.28,"y":10.9},{"b":"u2","c":"L","x":0.35,"y":11.6},{"b":"u2","c":"L","x":0.4,"y":12.05},
{"b":"u3","c":"L","x":0,"y":11.25},{"b":"u3","c":"L","x":0.1,"y":10.65},{"b":"u3","c":"L","x":0.204,"y":10.0},
{"b":"u4","c":"L","x":0,"y":9.41},{"b":"u4","c":"L","x":0.1,"y":9.6},{"b":"u4","c":"L","x":0.204,"y":9.94},{"b":"u4","c":"L","x":0.35,"y":10.4},{"b":"u4","c":"L","x":0.492,"y":10.98},{"b":"u4","c":"L","x":0.64,"y":11.45},{"b":"u4","c":"L","x":0.793,"y":11.95},
{"b":"u5","c":"L","x":0,"y":9.2},{"b":"u5","c":"L","x":0.1,"y":9.4},{"b":"u5","c":"L","x":0.204,"y":9.7},{"b":"u5","c":"L","x":0.35,"y":9.0},{"b":"u5","c":"L","x":0.492,"y":8.56},{"b":"u5","c":"L","x":0.64,"y":9.1},{"b":"u5","c":"L","x":0.793,"y":10.04},{"b":"u5","c":"L","x":0.9,"y":10.3},{"b":"u5","c":"L","x":1,"y":10.5},
{"b":"u6","c":"L","x":0.3,"y":12.05},{"b":"u6","c":"L","x":0.4,"y":11.6},{"b":"u6","c":"L","x":0.492,"y":11.0},{"b":"u6","c":"L","x":0.64,"y":11.4},{"b":"u6","c":"L","x":0.793,"y":11.9},
{"b":"u7","c":"L","x":0.58,"y":12.05},{"b":"u7","c":"L","x":0.68,"y":11.3},{"b":"u7","c":"L","x":0.793,"y":10.2},{"b":"u7","c":"L","x":0.9,"y":10.35},{"b":"u7","c":"L","x":1,"y":10.6},
{"b":"u8","c":"L","x":0.793,"y":11.95},{"b":"u8","c":"L","x":0.9,"y":11.3},{"b":"u8","c":"L","x":1,"y":10.8},
{"b":"u9","c":"L","x":0.793,"y":12.0},{"b":"u9","c":"L","x":0.9,"y":11.45},{"b":"u9","c":"L","x":1,"y":10.9},
{"b":"f21","c":"k6","x":0,"y":-5.95},{"b":"f21","c":"k6","x":0.204,"y":-5.95},{"b":"f21","c":"k6","x":0.492,"y":-5.93},{"b":"f21","c":"k6","x":0.793,"y":-5.95},{"b":"f21","c":"k6","x":1,"y":-5.95},
{"b":"f20","c":"k5","x":0,"y":-5.82},{"b":"f20","c":"k5","x":0.204,"y":-5.82},{"b":"f20","c":"k5","x":0.492,"y":-5.8},{"b":"f20","c":"k5","x":0.793,"y":-5.82},{"b":"f20","c":"k5","x":1,"y":-5.82},
{"b":"f19","c":"k4","x":0,"y":-5.68},{"b":"f19","c":"k4","x":0.204,"y":-5.68},{"b":"f19","c":"k4","x":0.492,"y":-5.65},{"b":"f19","c":"k4","x":0.793,"y":-5.68},{"b":"f19","c":"k4","x":1,"y":-5.68},
{"b":"f18","c":"k6","x":0,"y":-5.54},{"b":"f18","c":"k6","x":0.204,"y":-5.54},{"b":"f18","c":"k6","x":0.492,"y":-5.5},{"b":"f18","c":"k6","x":0.793,"y":-5.54},{"b":"f18","c":"k6","x":1,"y":-5.54},
{"b":"f17","c":"k4","x":0,"y":-5.4},{"b":"f17","c":"k4","x":0.204,"y":-5.4},{"b":"f17","c":"k4","x":0.492,"y":-5.35},{"b":"f17","c":"k4","x":0.793,"y":-5.4},{"b":"f17","c":"k4","x":1,"y":-5.4},
{"b":"f16","c":"k5","x":0,"y":-5.26},{"b":"f16","c":"k5","x":0.204,"y":-5.26},{"b":"f16","c":"k5","x":0.492,"y":-5.2},{"b":"f16","c":"k5","x":0.793,"y":-5.26},{"b":"f16","c":"k5","x":1,"y":-5.26},
{"b":"f15","c":"k4","x":0,"y":-5.12},{"b":"f15","c":"k4","x":0.204,"y":-5.12},{"b":"f15","c":"k4","x":0.492,"y":-5.05},{"b":"f15","c":"k4","x":0.793,"y":-5.12},{"b":"f15","c":"k4","x":1,"y":-5.12},
{"b":"f14","c":"k3","x":0,"y":-4.98},{"b":"f14","c":"k3","x":0.204,"y":-4.98},{"b":"f14","c":"k3","x":0.492,"y":-4.9},{"b":"f14","c":"k3","x":0.793,"y":-4.98},{"b":"f14","c":"k3","x":1,"y":-4.98},
{"b":"f13","c":"k3","x":0,"y":-4.84},{"b":"f13","c":"k3","x":0.204,"y":-4.84},{"b":"f13","c":"k3","x":0.492,"y":-4.75},{"b":"f13","c":"k3","x":0.793,"y":-4.84},{"b":"f13","c":"k3","x":1,"y":-4.84},
{"b":"f12","c":"k3","x":0,"y":-4.7},{"b":"f12","c":"k3","x":0.204,"y":-4.7},{"b":"f12","c":"k3","x":0.492,"y":-4.6},{"b":"f12","c":"k3","x":0.793,"y":-4.7},{"b":"f12","c":"k3","x":1,"y":-4.7},
{"b":"f11","c":"k2","x":0,"y":-4.56},{"b":"f11","c":"k2","x":0.204,"y":-4.56},{"b":"f11","c":"k2","x":0.492,"y":-4.45},{"b":"f11","c":"k2","x":0.793,"y":-4.56},{"b":"f11","c":"k2","x":1,"y":-4.56},
{"b":"f10","c":"k2","x":0,"y":-4.42},{"b":"f10","c":"k2","x":0.204,"y":-4.42},{"b":"f10","c":"k2","x":0.492,"y":-4.3},{"b":"f10","c":"k2","x":0.793,"y":-4.42},{"b":"f10","c":"k2","x":1,"y":-4.42},
{"b":"f9","c":"k2","x":0,"y":-4.28},{"b":"f9","c":"k2","x":0.204,"y":-4.28},{"b":"f9","c":"k2","x":0.492,"y":-4.15},{"b":"f9","c":"k2","x":0.793,"y":-4.28},{"b":"f9","c":"k2","x":1,"y":-4.28},
{"b":"f8","c":"k2","x":0,"y":-4.14},{"b":"f8","c":"k2","x":0.204,"y":-4.14},{"b":"f8","c":"k2","x":0.492,"y":-4.0},{"b":"f8","c":"k2","x":0.793,"y":-4.14},{"b":"f8","c":"k2","x":1,"y":-4.14},
{"b":"f7","c":"k1","x":0,"y":-4.0},{"b":"f7","c":"k1","x":0.204,"y":-4.0},{"b":"f7","c":"k1","x":0.492,"y":-3.85},{"b":"f7","c":"k1","x":0.793,"y":-4.0},{"b":"f7","c":"k1","x":1,"y":-4.0},
{"b":"f6","c":"k1","x":0,"y":-3.86},{"b":"f6","c":"k1","x":0.204,"y":-3.86},{"b":"f6","c":"k1","x":0.492,"y":-3.7},{"b":"f6","c":"k1","x":0.793,"y":-3.85},{"b":"f6","c":"k1","x":1,"y":-3.86},
{"b":"f5","c":"k1","x":0,"y":-3.72},{"b":"f5","c":"k1","x":0.204,"y":-3.72},{"b":"f5","c":"k1","x":0.492,"y":-3.55},{"b":"f5","c":"k1","x":0.793,"y":-3.7},{"b":"f5","c":"k1","x":1,"y":-3.72},
{"b":"f4","c":"k1","x":0,"y":-3.58},{"b":"f4","c":"k1","x":0.204,"y":-3.58},{"b":"f4","c":"k1","x":0.492,"y":-3.4},{"b":"f4","c":"k1","x":0.793,"y":-3.55},{"b":"f4","c":"k1","x":1,"y":-3.58},
{"b":"f3","c":"k1","x":0,"y":-3.44},{"b":"f3","c":"k1","x":0.204,"y":-3.45},{"b":"f3","c":"k1","x":0.492,"y":-3.25},{"b":"f3","c":"k1","x":0.793,"y":-3.42},{"b":"f3","c":"k1","x":1,"y":-3.45},
{"b":"f2","c":"k1","x":0,"y":-3.3},{"b":"f2","c":"k1","x":0.204,"y":-3.35},{"b":"f2","c":"k1","x":0.492,"y":-3.1},{"b":"f2","c":"k1","x":0.793,"y":-3.3},{"b":"f2","c":"k1","x":1,"y":-3.35},
{"b":"f1","c":"L","x":0,"y":-3.04},{"b":"f1","c":"L","x":0.1,"y":-3.1},{"b":"f1","c":"L","x":0.204,"y":-3.2},{"b":"f1","c":"L","x":0.35,"y":-3.0},{"b":"f1","c":"L","x":0.492,"y":-2.9},{"b":"f1","c":"L","x":0.64,"y":-2.95},{"b":"f1","c":"L","x":0.793,"y":-3.15},{"b":"f1","c":"L","x":0.9,"y":-3.2},{"b":"f1","c":"L","x":1,"y":-3.25},
{"b":"r6","c":"R","x":0,"y":-2.02},{"b":"r6","c":"R","x":0.204,"y":-2.02},{"b":"r6","c":"R","x":0.492,"y":-2.1},{"b":"r6","c":"R","x":0.793,"y":-2.05},{"b":"r6","c":"R","x":1,"y":-2.05},
{"b":"r5","c":"R","x":0,"y":-1.9},{"b":"r5","c":"R","x":0.204,"y":-1.9},{"b":"r5","c":"R","x":0.492,"y":-1.95},{"b":"r5","c":"R","x":0.793,"y":-1.92},{"b":"r5","c":"R","x":1,"y":-1.92},
{"b":"r4","c":"R","x":0,"y":-1.75},{"b":"r4","c":"R","x":0.204,"y":-1.75},{"b":"r4","c":"R","x":0.492,"y":-1.78},{"b":"r4","c":"R","x":0.793,"y":-1.8},{"b":"r4","c":"R","x":1,"y":-1.8},
{"b":"r3","c":"R","x":0,"y":-1.6},{"b":"r3","c":"R","x":0.204,"y":-1.6},{"b":"r3","c":"R","x":0.492,"y":-1.62},{"b":"r3","c":"R","x":0.793,"y":-1.7},{"b":"r3","c":"R","x":1,"y":-1.7},
{"b":"r2","c":"q","x":0,"y":-1.45},{"b":"r2","c":"q","x":0.204,"y":-1.45},{"b":"r2","c":"q","x":0.492,"y":-1.5},{"b":"r2","c":"q","x":0.793,"y":-1.55},{"b":"r2","c":"q","x":1,"y":-1.55},
{"b":"r1","c":"q","x":0,"y":-1.3},{"b":"r1","c":"q","x":0.204,"y":-1.3},{"b":"r1","c":"q","x":0.492,"y":-1.35},{"b":"r1","c":"q","x":0.793,"y":-1.45},{"b":"r1","c":"q","x":1,"y":-1.45},
{"b":"n8","c":"n","x":0,"y":-1.08},{"b":"n8","c":"n","x":0.204,"y":-1.1},{"b":"n8","c":"n","x":0.492,"y":-1.1},{"b":"n8","c":"n","x":0.793,"y":-1.1},{"b":"n8","c":"n","x":1,"y":-1.1},
{"b":"n7","c":"n","x":0,"y":-0.95},{"b":"n7","c":"n","x":0.204,"y":-0.95},{"b":"n7","c":"n","x":0.492,"y":-0.95},{"b":"n7","c":"n","x":0.793,"y":-1.0},{"b":"n7","c":"n","x":1,"y":-1.0},
{"b":"n6","c":"n","x":0,"y":-0.78},{"b":"n6","c":"n","x":0.1,"y":-0.8},{"b":"n6","c":"n","x":0.204,"y":-0.82},{"b":"n6","c":"n","x":0.35,"y":-0.75},{"b":"n6","c":"n","x":0.492,"y":-0.8},{"b":"n6","c":"n","x":0.64,"y":-0.82},{"b":"n6","c":"n","x":0.793,"y":-0.9},{"b":"n6","c":"n","x":0.9,"y":-0.88},{"b":"n6","c":"n","x":1,"y":-0.88},
{"b":"n5","c":"n","x":0,"y":-0.6},{"b":"n5","c":"n","x":0.1,"y":-0.58},{"b":"n5","c":"n","x":0.204,"y":-0.62},{"b":"n5","c":"n","x":0.35,"y":-0.55},{"b":"n5","c":"n","x":0.492,"y":-0.62},{"b":"n5","c":"n","x":0.64,"y":-0.62},{"b":"n5","c":"n","x":0.793,"y":-0.6},{"b":"n5","c":"n","x":0.9,"y":-0.58},{"b":"n5","c":"n","x":1,"y":-0.58},
{"b":"n4","c":"N","x":0,"y":-0.42},{"b":"n4","c":"N","x":0.1,"y":-0.42},{"b":"n4","c":"N","x":0.204,"y":-0.45},{"b":"n4","c":"N","x":0.35,"y":-0.42},{"b":"n4","c":"N","x":0.492,"y":-0.45},{"b":"n4","c":"N","x":0.64,"y":-0.4},{"b":"n4","c":"N","x":0.793,"y":-0.4},{"b":"n4","c":"N","x":0.9,"y":-0.4},{"b":"n4","c":"N","x":1,"y":-0.42},
{"b":"n3","c":"N","x":0,"y":-0.25},{"b":"n3","c":"N","x":0.1,"y":-0.3},{"b":"n3","c":"N","x":0.204,"y":-0.25},{"b":"n3","c":"N","x":0.35,"y":-0.3},{"b":"n3","c":"N","x":0.492,"y":-0.25},{"b":"n3","c":"N","x":0.64,"y":-0.28},{"b":"n3","c":"N","x":0.793,"y":-0.3},{"b":"n3","c":"N","x":0.9,"y":-0.3},{"b":"n3","c":"N","x":1,"y":-0.32},
{"b":"n2","c":"N","x":0,"y":-0.12},{"b":"n2","c":"N","x":0.204,"y":-0.12},{"b":"n2","c":"N","x":0.492,"y":-0.12},{"b":"n2","c":"N","x":0.64,"y":-0.15},{"b":"n2","c":"N","x":0.793,"y":-0.2},{"b":"n2","c":"N","x":1,"y":-0.2},
{"b":"n1","c":"N","x":0,"y":-0.02},{"b":"n1","c":"N","x":0.204,"y":-0.02},{"b":"n1","c":"N","x":0.492,"y":-0.03},{"b":"n1","c":"N","x":0.64,"y":-0.05},{"b":"n1","c":"N","x":0.793,"y":-0.08},{"b":"n1","c":"N","x":1,"y":-0.08}
]
},
"concat": [
{
"width": 347, "height": 406,
"layer": [
{"data": {"values": [{"y": 0}]}, "mark": {"type": "rule", "color": "black", "strokeWidth": 1.5, "strokeDash": [7, 3, 2, 3]}, "encoding": {"y": {"field": "y", "type": "quantitative", "title": null}}},
{"data": {"name": "tl"}, "mark": {"type": "line", "interpolate": "monotone", "strokeWidth": 3.2, "clip": true},
 "encoding": {
  "x": {"field": "x", "type": "quantitative", "title": null, "scale": {"domain": [0, 1], "nice": false, "zero": false}, "axis": {"values": [0, 0.27, 0.532, 0.622, 0.864, 1], "labelExpr": "datum.value < 0.1 ? 'X' : datum.value < 0.4 ? 'Γ' : datum.value < 0.58 ? 'L' : datum.value < 0.7 ? 'U' : datum.value < 0.95 ? 'T' : 'Γ'"}},
  "y": {"field": "y", "type": "quantitative", "title": null, "scale": {"domain": [-4, 8], "nice": false, "zero": false}, "axis": {"values": [-4, -2, 0, 2, 4, 6, 8]}},
  "detail": {"field": "b"},
  "color": {"field": "c", "type": "nominal", "legend": null, "scale": {"domain": ["c","d","b","p","g","G","o","n","r","h","N","q","R","L","k1","k2","k3","k4","k5","k6"], "range": ["#d04418","#b52e2c","#1f4fc4","#6a3d86","#58a818","#2ee000","#8a7512","#a8520e","#e6200c","#6e9a12","#9c6a00","#cc3a10","#e81408","#22f022","#00f514","#06dc30","#0cc448","#12aa58","#5a9a2a","#1a8a66"]}}
 }},
{"data": {"values": [{"x": 0.27, "y0": -4, "y1": 1.56}, {"x": 0.27, "y0": 3.93, "y1": 8}, {"x": 0.532, "y0": -4, "y1": 8}, {"x": 0.622, "y0": -4, "y1": 8}, {"x": 0.864, "y0": -4, "y1": 8}]},
 "mark": {"type": "rule", "color": "black", "strokeWidth": 2},
 "encoding": {"x": {"field": "x", "type": "quantitative", "title": null}, "y": {"field": "y0", "type": "quantitative", "title": null}, "y2": {"field": "y1"}}},
{"data": {"values": [{"t": "AFM", "x": 0.171, "y": 2.84}, {"t": "QSGW", "x": 0.171, "y": 1.83}]},
 "mark": {"type": "text", "align": "left", "baseline": "alphabetic", "font": "Liberation Sans", "fontSize": 33, "color": "black"},
 "encoding": {"x": {"field": "x", "type": "quantitative", "title": null}, "y": {"field": "y", "type": "quantitative", "title": null}, "text": {"field": "t"}}}
]
},
{
"width": 347, "height": 406,
"layer": [
{"data": {"values": [{"y": 0}]}, "mark": {"type": "rule", "color": "black", "strokeWidth": 1.5, "strokeDash": [7, 3, 2, 3]}, "encoding": {"y": {"field": "y", "type": "quantitative", "title": null}}},
{"data": {"name": "tr"}, "mark": {"type": "line", "interpolate": "monotone", "strokeWidth": 3.2, "clip": true},
 "encoding": {
  "x": {"field": "x", "type": "quantitative", "title": null, "scale": {"domain": [0, 1], "nice": false, "zero": false}, "axis": {"values": [0, 0.27, 0.532, 0.622, 0.864, 1], "labelOffset": {"condition": {"test": "datum.value > 0.95", "value": -5}, "value": 0}, "labelExpr": "datum.value < 0.1 ? 'X' : datum.value < 0.4 ? 'Γ' : datum.value < 0.58 ? 'L' : datum.value < 0.7 ? 'U' : datum.value < 0.95 ? 'T' : 'Γ'"}},
  "y": {"field": "y", "type": "quantitative", "title": null, "scale": {"domain": [-4, 8], "nice": false, "zero": false}, "axis": {"values": [-4, -2, 0, 2, 4, 6, 8]}},
  "detail": {"field": "b"},
  "color": {"field": "c", "type": "nominal", "legend": null, "scale": {"domain": ["c","d","b","p","g","G","o","n","r","h","N","q","R","L","k1","k2","k3","k4","k5","k6"], "range": ["#d04418","#b52e2c","#1f4fc4","#6a3d86","#58a818","#2ee000","#8a7512","#a8520e","#e6200c","#6e9a12","#9c6a00","#cc3a10","#e81408","#22f022","#00f514","#06dc30","#0cc448","#12aa58","#5a9a2a","#1a8a66"]}}
 }},
{"data": {"values": [{"x": 0.27, "y0": -4, "y1": 1.56}, {"x": 0.27, "y0": 3.93, "y1": 8}, {"x": 0.532, "y0": -4, "y1": 8}, {"x": 0.622, "y0": -4, "y1": 8}, {"x": 0.864, "y0": -4, "y1": 8}]},
 "mark": {"type": "rule", "color": "black", "strokeWidth": 2},
 "encoding": {"x": {"field": "x", "type": "quantitative", "title": null}, "y": {"field": "y0", "type": "quantitative", "title": null}, "y2": {"field": "y1"}}},
{"data": {"values": [{"t": "PM", "x": 0.175, "y": 2.84}, {"t": "QSGW", "x": 0.175, "y": 1.83}]},
 "mark": {"type": "text", "align": "left", "baseline": "alphabetic", "font": "Liberation Sans", "fontSize": 33, "color": "black"},
 "encoding": {"x": {"field": "x", "type": "quantitative", "title": null}, "y": {"field": "y", "type": "quantitative", "title": null}, "text": {"field": "t"}}}
]
},
{
"width": 347, "height": 404,
"layer": [
{"data": {"values": [{"y": 0}]}, "mark": {"type": "rule", "color": "black", "strokeWidth": 1.5, "strokeDash": [7, 3, 2, 3]}, "encoding": {"y": {"field": "y", "type": "quantitative", "title": null}}},
{"data": {"name": "bl"}, "mark": {"type": "line", "interpolate": "monotone", "strokeWidth": 3.2, "clip": true},
 "encoding": {
  "x": {"field": "x", "type": "quantitative", "title": null, "scale": {"domain": [0, 1], "nice": false, "zero": false}, "axis": {"values": [0, 0.204, 0.492, 0.793, 1], "labelExpr": "datum.value < 0.1 ? 'X' : datum.value < 0.3 ? 'M' : datum.value < 0.6 ? 'Γ' : datum.value < 0.9 ? 'Z' : 'R'"}},
  "y": {"field": "y", "type": "quantitative", "title": null, "scale": {"domain": [-6, 12], "nice": false, "zero": false}, "axis": {"values": [-4, 0, 4, 8, 12]}},
  "detail": {"field": "b"},
  "color": {"field": "c", "type": "nominal", "legend": null, "scale": {"domain": ["c","d","b","p","g","G","o","n","r","h","N","q","R","L","k1","k2","k3","k4","k5","k6"], "range": ["#d04418","#b52e2c","#1f4fc4","#6a3d86","#58a818","#2ee000","#8a7512","#a8520e","#e6200c","#6e9a12","#9c6a00","#cc3a10","#e81408","#22f022","#00f514","#06dc30","#0cc448","#12aa58","#5a9a2a","#1a8a66"]}}
 }},
{"data": {"values": [{"x": 0.204, "y0": -6, "y1": 12}, {"x": 0.492, "y0": -6, "y1": 3.68}, {"x": 0.492, "y0": 7.09, "y1": 12}, {"x": 0.793, "y0": -6, "y1": 12}]},
 "mark": {"type": "rule", "color": "black", "strokeWidth": 2},
 "encoding": {"x": {"field": "x", "type": "quantitative", "title": null}, "y": {"field": "y0", "type": "quantitative", "title": null}, "y2": {"field": "y1"}}},
{"data": {"values": [{"t": "AFM", "x": 0.375, "y": 5.67}, {"t": "QSGW", "x": 0.375, "y": 4.11}]},
 "mark": {"type": "text", "align": "left", "baseline": "alphabetic", "font": "Liberation Sans", "fontSize": 33, "color": "black"},
 "encoding": {"x": {"field": "x", "type": "quantitative", "title": null}, "y": {"field": "y", "type": "quantitative", "title": null}, "text": {"field": "t"}}}
]
},
{
"width": 347, "height": 404,
"layer": [
{"data": {"values": [{"y": 0}]}, "mark": {"type": "rule", "color": "black", "strokeWidth": 1.5, "strokeDash": [7, 3, 2, 3]}, "encoding": {"y": {"field": "y", "type": "quantitative", "title": null}}},
{"data": {"name": "br"}, "mark": {"type": "line", "interpolate": "monotone", "strokeWidth": 3.2, "clip": true},
 "encoding": {
  "x": {"field": "x", "type": "quantitative", "title": null, "scale": {"domain": [0, 1], "nice": false, "zero": false}, "axis": {"values": [0, 0.204, 0.492, 0.793, 1], "labelOffset": {"condition": {"test": "datum.value > 0.95", "value": -6}, "value": 0}, "labelExpr": "datum.value < 0.1 ? 'X' : datum.value < 0.3 ? 'M' : datum.value < 0.6 ? 'Γ' : datum.value < 0.9 ? 'Z' : 'R'"}},
  "y": {"field": "y", "type": "quantitative", "title": null, "scale": {"domain": [-6, 12], "nice": false, "zero": false}, "axis": {"values": [-4, 0, 4, 8, 12]}},
  "detail": {"field": "b"},
  "color": {"field": "c", "type": "nominal", "legend": null, "scale": {"domain": ["c","d","b","p","g","G","o","n","r","h","N","q","R","L","k1","k2","k3","k4","k5","k6"], "range": ["#d04418","#b52e2c","#1f4fc4","#6a3d86","#58a818","#2ee000","#8a7512","#a8520e","#e6200c","#6e9a12","#9c6a00","#cc3a10","#e81408","#22f022","#00f514","#06dc30","#0cc448","#12aa58","#5a9a2a","#1a8a66"]}}
 }},
{"data": {"values": [{"x": 0.204, "y0": -6, "y1": 12}, {"x": 0.492, "y0": -6, "y1": 3.68}, {"x": 0.492, "y0": 6.87, "y1": 12}, {"x": 0.793, "y0": -6, "y1": 12}]},
 "mark": {"type": "rule", "color": "black", "strokeWidth": 2},
 "encoding": {"x": {"field": "x", "type": "quantitative", "title": null}, "y": {"field": "y0", "type": "quantitative", "title": null}, "y2": {"field": "y1"}}},
{"data": {"values": [{"t": "PM", "x": 0.378, "y": 5.67}, {"t": "QSGW", "x": 0.378, "y": 4.11}]},
 "mark": {"type": "text", "align": "left", "baseline": "alphabetic", "font": "Liberation Sans", "fontSize": 33, "color": "black"},
 "encoding": {"x": {"field": "x", "type": "quantitative", "title": null}, "y": {"field": "y", "type": "quantitative", "title": null}, "text": {"field": "t"}}}
]
}
],
"config": {
 "view": {"stroke": "black", "strokeWidth": 2},
 "axis": {"grid": false, "domain": false, "ticks": false, "labelFont": "Liberation Serif", "labelColor": "black", "labelOverlap": false, "labelFlush": false, "labelBound": false},
 "axisX": {"labelFontSize": 33, "labelPadding": -1},
 "axisY": {"labelFontSize": 30, "labelPadding": 11}
}
}
